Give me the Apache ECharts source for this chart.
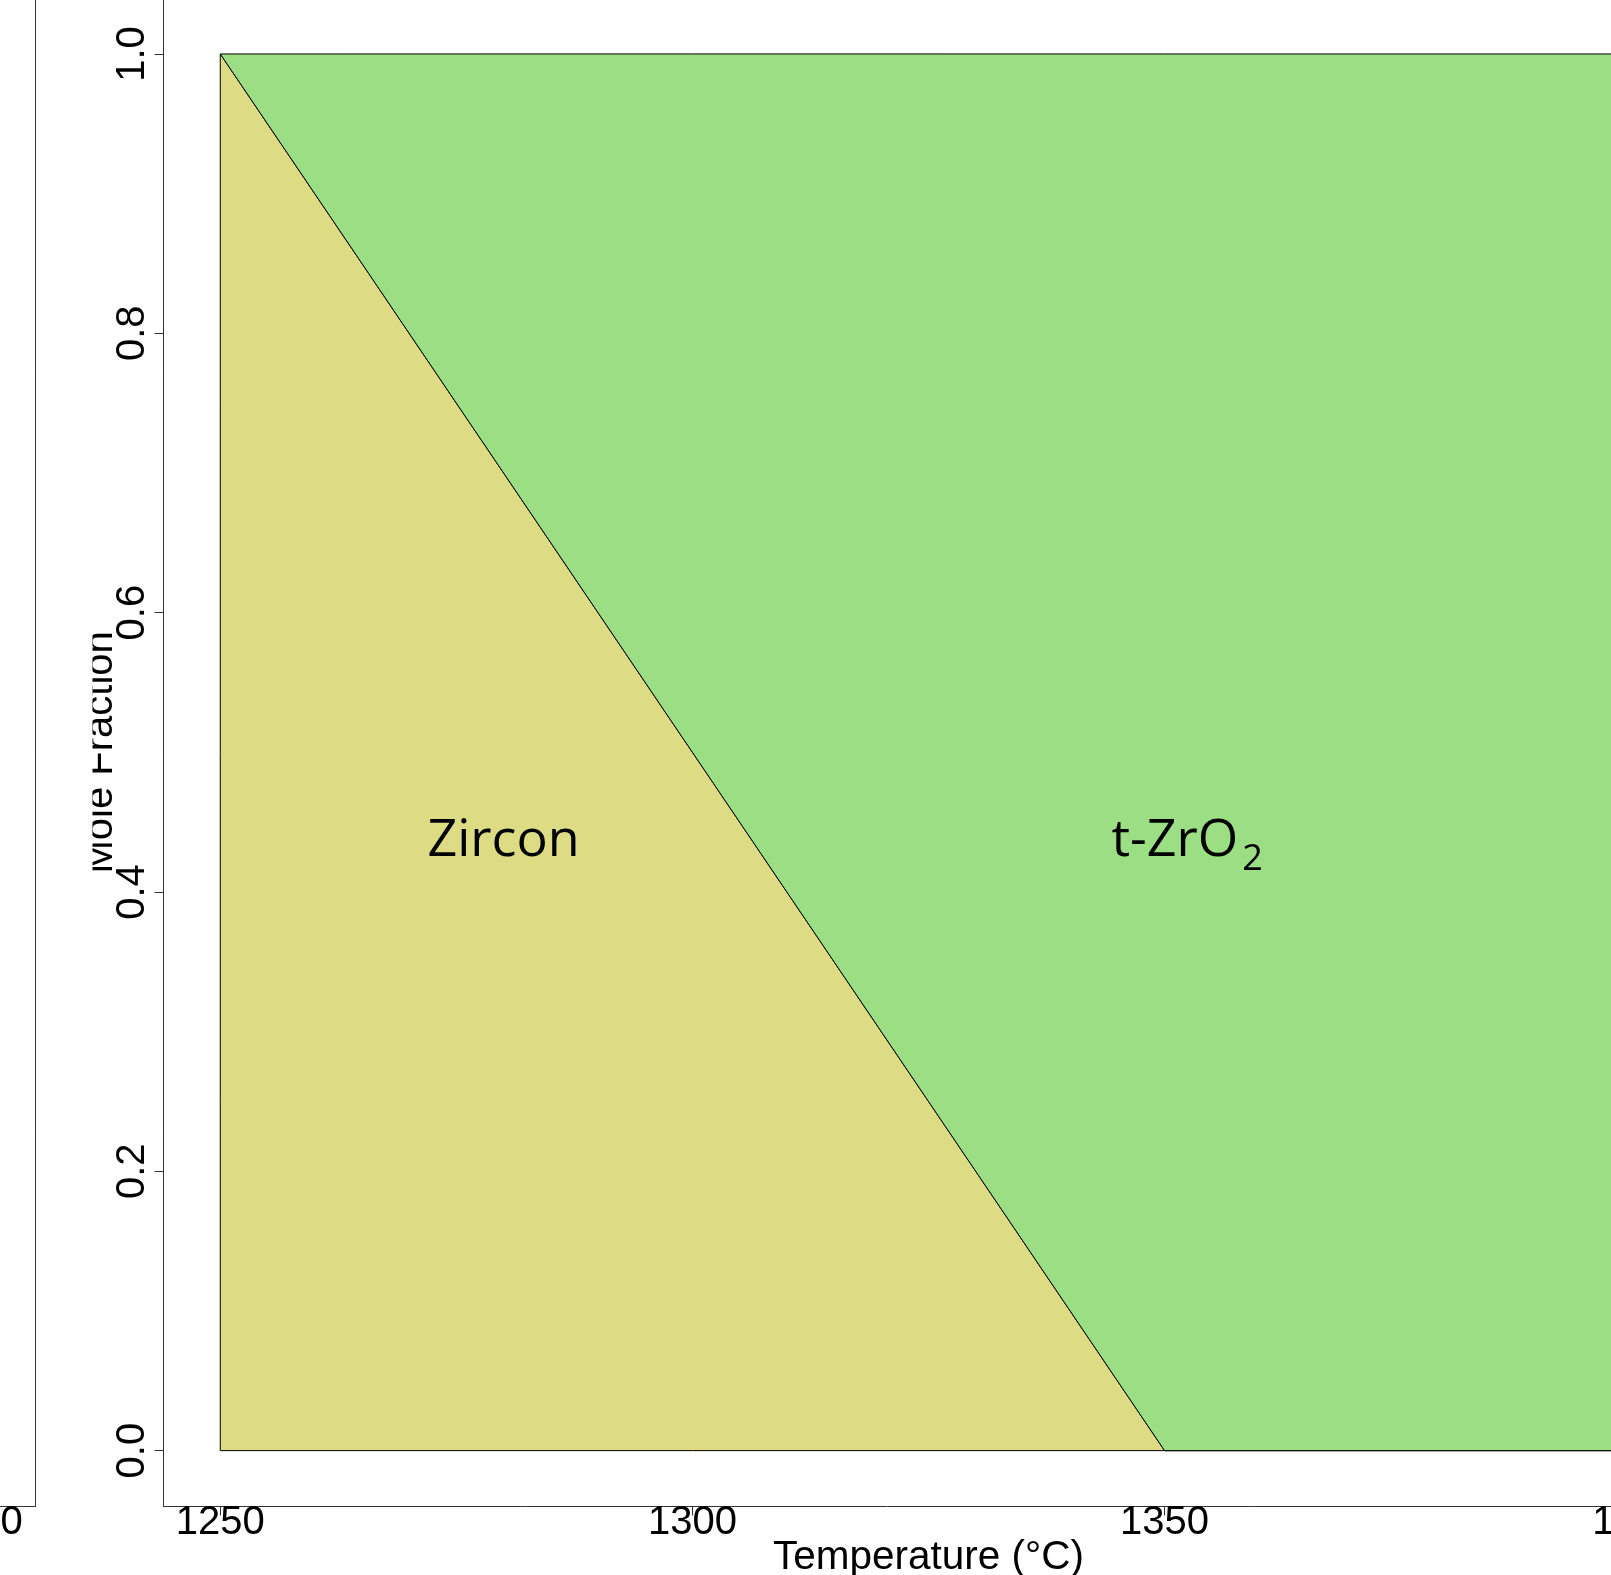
<!DOCTYPE html>
<html><head><meta charset="utf-8">
<script src="https://cdn.jsdelivr.net/npm/echarts@6/dist/echarts.min.js"></script>
<style>html,body{margin:0;padding:0;background:#fff}#c{width:1611px;height:1575px}</style>
</head><body><div id="c"></div>
<script>
// ---- data ----
const temps = [1250, 1350, 1400];
const zircon = [1.0, 0.0, 0.0];
const tZrO2 = [0.0, 1.0, 1.0];
const phaseNames = ['Zircon', 't-ZrO2'];
const labelTemps = [1280, 1352.4];
const labelFracs = [0.455, 0.455];
const xTicks = [1250, 1300, 1350, 1400];
const yTicks = [0.0, 0.2, 0.4, 0.6, 0.8, 1.0];
const xRange = [1244, 1406];
const yRange = [-0.04, 1.04];

// ---- styles ----
const phaseColors = ['#DDDC84', '#9CDE84'];
const axisColor = '#333';
const tickFont = 'Liberation Sans, Arial, sans-serif';

const phaseSeries = [zircon, tZrO2];
const bounds = [];
let base = temps.map(() => 0);
phaseSeries.forEach(vals => {
  const lower = base.slice();
  const upper = base.map((b, i) => b + vals[i]);
  bounds.push({ lower, upper });
  base = upper;
});

function renderPhase(params, api) {
  const k = params.dataIndex;
  const { lower, upper } = bounds[k];
  const pts = [];
  for (let i = 0; i < temps.length; i++) pts.push(api.coord([temps[i], upper[i]]));
  for (let i = temps.length - 1; i >= 0; i--) pts.push(api.coord([temps[i], lower[i]]));
  return { type: 'polygon', shape: { points: pts },
    style: { fill: phaseColors[k], stroke: '#000', lineWidth: 1 } };
}

function richName(name) {
  return '{a|' + name.replace(/(\d+)/g, '}{s|$1}{a|') + '}';
}

function renderLabel(params, api) {
  const k = params.dataIndex;
  const p = api.coord([labelTemps[k], labelFracs[k]]);
  return { type: 'text', x: p[0], y: p[1],
    style: { text: richName(phaseNames[k]), align: 'center', verticalAlign: 'top',
      rich: {
        a: { fontSize: 52, lineHeight: 52, fontFamily: 'Open Sans', color: '#000', verticalAlign: 'top' },
        s: { fontSize: 36, lineHeight: 36, fontFamily: 'Open Sans', color: '#000', verticalAlign: 'top', padding: [27, 0, 0, 4] }
      } } };
}

const gridW = 1529.8, gridH = 1508.4;
const axisBase = {
  type: 'value', splitLine: { show: false },
  axisLine: { show: true, onZero: false, lineStyle: { color: axisColor, width: 1 } },
};

const option = {
  animation: false,
  backgroundColor: '#fff',
  grid: [
    { left: 163.6, top: -1.9, width: gridW, height: gridH, outerBoundsMode: 'none' },
    { left: 35 - gridW, top: -1.9, width: gridW, height: gridH, outerBoundsMode: 'none' }
  ],
  xAxis: [
    Object.assign({}, axisBase, {
      gridIndex: 0, min: xRange[0], max: xRange[1],
      axisTick: { show: true, length: 9, customValues: xTicks, lineStyle: { color: axisColor } },
      axisLabel: { customValues: xTicks, fontSize: 40, fontFamily: tickFont, color: '#000', margin: -4,
        formatter: v => String(v) },
      name: 'Temperature (°C)', nameLocation: 'middle', nameGap: 31, nameMoveOverlap: false,
      nameTextStyle: { fontSize: 40.5, fontFamily: tickFont, color: '#000' }
    }),
    Object.assign({}, axisBase, {
      gridIndex: 1, min: xRange[0], max: xRange[1],
      axisTick: { show: true, length: 9, customValues: xTicks, lineStyle: { color: axisColor } },
      axisLabel: { customValues: xTicks, fontSize: 40, fontFamily: tickFont, color: '#000', margin: -4,
        formatter: v => String(v) }
    })
  ],
  yAxis: [
    Object.assign({}, axisBase, {
      gridIndex: 0, min: yRange[0], max: yRange[1],
      axisTick: { show: true, length: 9, customValues: yTicks, lineStyle: { color: axisColor } },
      axisLabel: { customValues: yTicks, fontSize: 40, fontFamily: tickFont, color: '#000', margin: 11, rotate: 90,
        formatter: v => v.toFixed(1) },
      name: 'Mole Fraction', nameLocation: 'middle', nameGap: 43, nameMoveOverlap: false,
      nameTextStyle: { fontSize: 40, fontFamily: tickFont, color: '#000' }
    }),
    Object.assign({}, axisBase, {
      gridIndex: 1, min: yRange[0], max: yRange[1], position: 'right',
      axisTick: { show: false }, axisLabel: { show: false }
    })
  ],
  graphic: [
    { type: 'rect', shape: { x: 37, y: 0, width: 55.5, height: 1500 }, style: { fill: '#fff' }, z: 50, silent: true }
  ],
  series: [
    { type: 'custom', xAxisIndex: 0, yAxisIndex: 0, renderItem: renderPhase,
      data: phaseNames.map((n, i) => [i]), silent: true, z: 2 },
    { type: 'custom', xAxisIndex: 0, yAxisIndex: 0, renderItem: renderLabel,
      data: phaseNames.map((n, i) => [i]), silent: true, z: 5 }
  ]
};

const chart = echarts.init(document.getElementById('c'), null, { renderer: 'canvas' });
chart.setOption(option);
</script>
</body></html>
